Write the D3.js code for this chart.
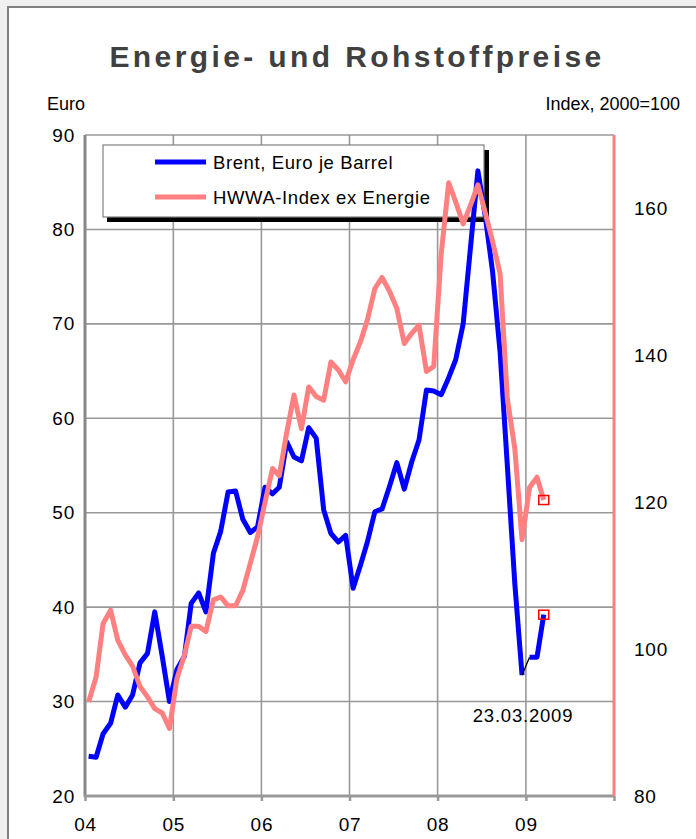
<!DOCTYPE html>
<html>
<head>
<meta charset="utf-8">
<script src="https://cdn.jsdelivr.net/npm/d3@7"></script>
<style>
html, body { margin: 0; padding: 0; background: #f0f0f0; }
svg { display: block; font-family: "Liberation Sans", Arial, sans-serif; }
</style>
</head>
<body>
<svg id="chart"></svg>
<script>
// monthly values, Jan 2004 .. Mar 2009
const brent = [
	24.2, 24.1, 26.6, 27.7, 30.7, 29.4, 30.7, 34.1, 35.1, 39.5, 34.8, 30.0,
	33.4, 34.8, 40.4, 41.5, 39.5, 45.7, 48.0, 52.2, 52.3, 49.3, 47.9, 48.5,
	52.7, 52.0, 52.7, 57.5, 55.9, 55.5, 59.0, 57.9, 50.3, 47.8, 46.9, 47.6,
	42.0, 44.5, 46.9, 50.1, 50.4, 52.8, 55.3, 52.5, 55.4, 57.7, 63.0, 62.9,
	62.5, 64.3, 66.2, 70.0, 78.0, 86.2, 81.5, 75.5, 67.0, 55.0, 42.5, 32.8,
	34.7, 34.7, 39.2
];
const hwwa = [
	92.8, 96.2, 103.5, 105.3, 101.2, 99.2, 97.7, 94.9, 93.5, 91.9, 91.3, 89.2,
	96.0, 99.2, 103.1, 103.1, 102.4, 106.7, 107.1, 105.9, 105.9, 108.0, 111.7, 115.3,
	120.0, 124.6, 123.6, 129.5, 134.6, 130.0, 135.7, 134.4, 133.9, 139.1, 138.0, 136.4,
	139.4, 141.9, 144.8, 149.1, 150.6, 148.7, 146.4, 141.6, 143.0, 144.1, 137.8, 138.5,
	153.8, 163.5, 160.9, 157.9, 160.4, 163.2, 159.5, 155.5, 151.1, 134.1, 127.3, 114.9,
	122.0, 123.4, 120.3
];
const firstYear = 2004;
const years = [2004, 2005, 2006, 2007, 2008, 2009];
const yearLabels = ['04', '05', '06', '07', '08', '09'];
const leftTicks = [20, 30, 40, 50, 60, 70, 80, 90];
const rightTicks = [80, 100, 120, 140, 160];
const seriesNames = ['Brent, Euro je Barrel', 'HWWA-Index ex Energie'];
const stampLabel = '23.03.2009';

const W = 696, H = 839;
const BLUE = '#0000ff', PINK = '#ff8080', GRID = '#999999';

const svg = d3.select('#chart').attr('width', W).attr('height', H);

// outer frame
svg.append('rect')
	.attr('x', 8).attr('y', 7).attr('width', W + 10).attr('height', H + 10)
	.attr('fill', '#fff').attr('stroke', '#808080').attr('stroke-width', 2);

const x = d3.scaleTime()
	.domain([new Date(firstYear, 0, 1), new Date(2010, 0, 1)])
	.range([85, 614]);
const yL = d3.scaleLinear().domain([20, 90]).range([796, 135]);
const yR = d3.scaleLinear().domain([80, 170]).range([796, 135]);

const monthDate = i => new Date(firstYear, i, 16);

// title & axis captions
svg.append('text')
	.attr('x', 357).attr('y', 67)
	.attr('text-anchor', 'middle')
	.attr('font-weight', 'bold').attr('font-size', 30)
	.attr('letter-spacing', 3.4)
	.attr('fill', '#404040')
	.text('Energie- und Rohstoffpreise');

svg.append('text').attr('x', 47).attr('y', 110).attr('font-size', 18).text('Euro');
svg.append('text').attr('x', 680).attr('y', 110).attr('font-size', 18)
	.attr('text-anchor', 'end').text('Index, 2000=100');

// grid
const grid = svg.append('g').attr('stroke', GRID).attr('stroke-width', 1.6);
grid.selectAll('.h').data(leftTicks).enter().append('line')
	.attr('x1', x.range()[0]).attr('x2', x.range()[1])
	.attr('y1', d => yL(d)).attr('y2', d => yL(d));
grid.selectAll('.v').data(years.slice(1)).enter().append('line')
	.attr('x1', d => x(new Date(d, 0, 1))).attr('x2', d => x(new Date(d, 0, 1)))
	.attr('y1', yL(90)).attr('y2', yL(20));

// axes
const styleTicks = g => {
	g.select('.domain').remove();
	g.selectAll('text')
		.attr('font-size', 19)
		.attr('letter-spacing', 0.8)
		.attr('fill', '#000')
		.attr('font-family', '"Liberation Sans", Arial, sans-serif');
};

svg.append('g')
	.attr('transform', 'translate(85,0)')
	.call(d3.axisLeft(yL).tickValues(leftTicks).tickSize(0).tickPadding(10))
	.call(styleTicks);

svg.append('g')
	.attr('transform', 'translate(614,0)')
	.call(d3.axisRight(yR).tickValues(rightTicks).tickSize(0).tickPadding(20))
	.call(styleTicks);

const xAxis = svg.append('g')
	.attr('transform', 'translate(0,796)')
	.call(d3.axisBottom(x)
		.tickValues(years.concat([2010]).map(d => new Date(d, 0, 1)))
		.tickSize(5).tickPadding(17)
		.tickFormat((d, i) => yearLabels[i] || ''))
	.call(styleTicks);
xAxis.selectAll('line').attr('stroke', GRID).attr('stroke-width', 2.5);

// axis lines
svg.append('line').attr('x1', 85).attr('x2', 85).attr('y1', 135).attr('y2', 797)
	.attr('stroke', '#888').attr('stroke-width', 3);
svg.append('line').attr('x1', 84).attr('x2', 615).attr('y1', 796).attr('y2', 796)
	.attr('stroke', GRID).attr('stroke-width', 3);
svg.append('line').attr('x1', 614).attr('x2', 614).attr('y1', 135).attr('y2', 796)
	.attr('stroke', PINK).attr('stroke-width', 3);

// legend (drawn below the lines)
const lg = svg.append('g');
lg.append('rect').attr('x', 107).attr('y', 150).attr('width', 382).attr('height', 72).attr('fill', '#000');
lg.append('rect').attr('x', 103).attr('y', 145).attr('width', 381).attr('height', 72)
	.attr('fill', '#fff').attr('stroke', '#808080').attr('stroke-width', 1.2);
[BLUE, PINK].forEach((c, i) => {
	const yy = 162 + i * 35;
	lg.append('line').attr('x1', 155).attr('x2', 206).attr('y1', yy).attr('y2', yy)
		.attr('stroke', c).attr('stroke-width', 5);
	lg.append('text').attr('x', 213).attr('y', yy + 7)
		.attr('font-size', 18.5).attr('letter-spacing', 0.6)
		.text(seriesNames[i]);
});

// series
const lineL = d3.line().x(d => x(monthDate(d[0]))).y(d => yL(d[1]));
const lineR = d3.line().x(d => x(monthDate(d[0]))).y(d => yR(d[1]));
const brentPts = brent.map((v, i) => [i, v]);
const hwwaPts = hwwa.map((v, i) => [i, v]);
const breakAt = 59; // Dec 2008 -> Jan 2009 drawn as thin black link

svg.append('path').datum(brentPts.slice(0, breakAt + 1))
	.attr('d', lineL).attr('fill', 'none').attr('stroke', BLUE)
	.attr('stroke-width', 5).attr('stroke-linejoin', 'round');
svg.append('path').datum(brentPts.slice(breakAt, breakAt + 2))
	.attr('d', lineL).attr('fill', 'none').attr('stroke', '#000').attr('stroke-width', 1.3);
svg.append('path').datum(brentPts.slice(breakAt + 1))
	.attr('d', lineL).attr('fill', 'none').attr('stroke', BLUE)
	.attr('stroke-width', 5).attr('stroke-linejoin', 'round');

svg.append('path').datum(hwwaPts)
	.attr('d', lineR).attr('fill', 'none').attr('stroke', PINK)
	.attr('stroke-width', 5).attr('stroke-linejoin', 'round');

// end markers
const ends = [
	[x(monthDate(brent.length - 1)), yL(brent[brent.length - 1])],
	[x(monthDate(hwwa.length - 1)), yR(hwwa[hwwa.length - 1])]
];
svg.selectAll('.endmark').data(ends).enter().append('rect')
	.attr('x', d => d[0] - 5).attr('y', d => d[1] - 4.5)
	.attr('width', 10).attr('height', 9)
	.attr('fill', 'none').attr('stroke', '#ff0000').attr('stroke-width', 1.5);

svg.append('text')
	.attr('x', 523).attr('y', 722)
	.attr('text-anchor', 'middle')
	.attr('font-size', 18.5).attr('letter-spacing', 0.8)
	.text(stampLabel);
</script>
</body>
</html>
